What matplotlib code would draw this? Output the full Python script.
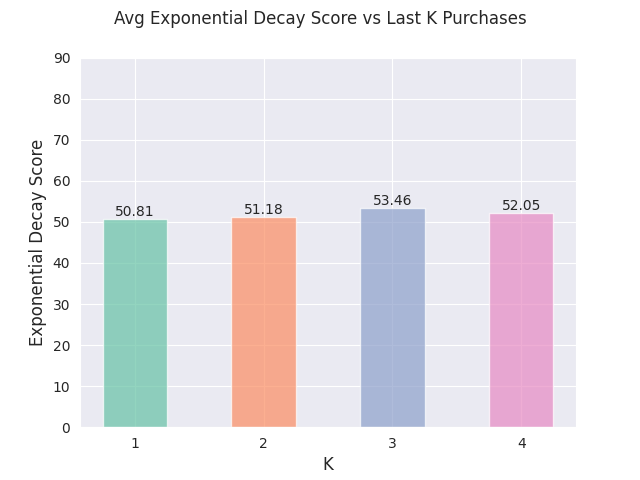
import matplotlib
matplotlib.use("Agg")
import matplotlib.pyplot as plt
import seaborn as sns

sns.set_style("darkgrid")

k_values = ["1", "2", "3", "4"]
scores = [50.81, 51.18, 53.46, 52.05]

colors = sns.color_palette("Set2", 4)

fig, ax = plt.subplots(figsize=(6.4, 4.8), dpi=100)
bars = ax.bar(k_values, scores, width=0.5, color=colors, alpha=0.7)
for b, v in zip(bars, scores):
    ax.text(b.get_x() + b.get_width() / 2, v, f"{v:.2f}", ha="center", va="bottom", fontsize=10)

ax.set_ylim(0, 90)
ax.set_xlabel("K", fontsize=12)
ax.set_ylabel("Exponential Decay Score", fontsize=12)
fig.suptitle("Avg Exponential Decay Score vs Last K Purchases", fontsize=12)

plt.savefig("out.png")
